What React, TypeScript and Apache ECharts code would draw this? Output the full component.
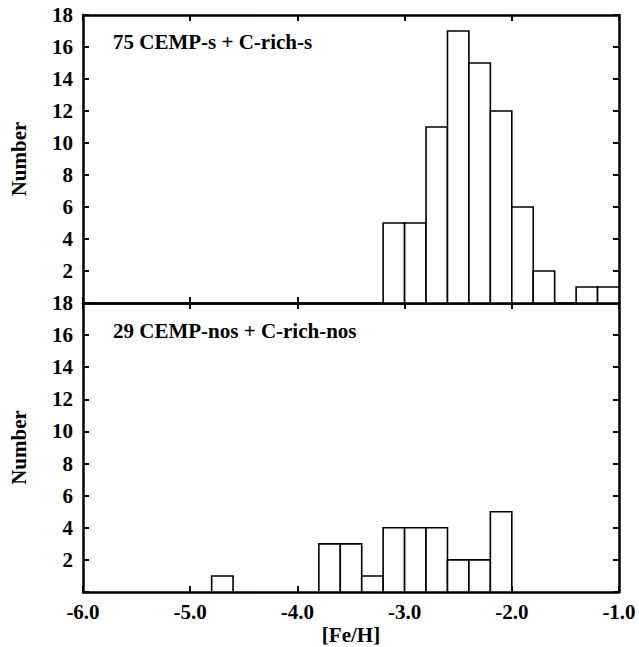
import React, { useEffect, useRef } from "react";
import * as echarts from "echarts";

const BIN_WIDTH = 0.2;
const topBinStarts = [-3.2, -3.0, -2.8, -2.6, -2.4, -2.2, -2.0, -1.8, -1.4, -1.2];
const topCounts = [5, 5, 11, 17, 15, 12, 6, 2, 1, 1];
const bottomBinStarts = [-4.8, -3.8, -3.6, -3.4, -3.2, -3.0, -2.8, -2.6, -2.4, -2.2];
const bottomCounts = [1, 3, 3, 1, 4, 4, 4, 2, 2, 5];
const topLabel = "75 CEMP-s + C-rich-s";
const bottomLabel = "29 CEMP-nos + C-rich-nos";
const xTitle = "[Fe/H]";
const yTitle = "Number";

const FONT = "Liberation Serif";

export default function App() {
  const ref = useRef<HTMLDivElement>(null);
  useEffect(() => {
    document.body.style.margin = "0";
    const chart = echarts.init(ref.current!, null, { renderer: "svg" });
    const tickFont = { fontFamily: FONT, fontWeight: "bold", fontSize: 21, color: "#000" };
    const lineStyle = { color: "#000", width: 2.5 };
    const grids = [
      { left: 80, top: 15, width: 539, height: 288 },
      { left: 80, top: 303, width: 539, height: 289 },
    ];
    const xAxes: any[] = [];
    const yAxes: any[] = [];
    [0, 1].forEach((g) => {
      const isBottom = g === 1;
      xAxes.push({
        type: "value",
        gridIndex: g,
        position: "bottom",
        min: -6,
        max: -1,
        interval: 1,
        axisLine: { show: true, onZero: false, lineStyle },
        axisTick: { show: true, inside: true, length: 6, lineStyle: { color: "#000", width: 2 } },
        axisLabel: {
          show: isBottom,
          ...tickFont,
          margin: 9,
          formatter: (v: number) => v.toFixed(1),
        },
        splitLine: { show: false },
        name: isBottom ? xTitle : "",
        nameLocation: "middle",
        nameGap: 32,
        nameTextStyle: tickFont,
      });
      xAxes.push({
        type: "value",
        gridIndex: g,
        position: "top",
        min: -6,
        max: -1,
        interval: 1,
        axisLine: { show: true, onZero: false, lineStyle },
        axisTick: { show: true, inside: true, length: 6, lineStyle: { color: "#000", width: 2 } },
        axisLabel: { show: false },
        splitLine: { show: false },
      });
      yAxes.push({
        type: "value",
        gridIndex: g,
        position: "left",
        min: 0,
        max: 18,
        interval: 2,
        axisLine: { show: true, onZero: false, lineStyle },
        axisTick: { show: true, inside: true, length: 6, lineStyle: { color: "#000", width: 2 } },
        axisLabel: {
          ...tickFont,
          margin: 10,
          formatter: (v: number) => (v === 0 ? "" : String(v)),
        },
        splitLine: { show: false },
        name: yTitle,
        nameLocation: "middle",
        nameGap: 54,
        nameRotate: 90,
        nameTextStyle: tickFont,
      });
      yAxes.push({
        type: "value",
        gridIndex: g,
        position: "right",
        min: 0,
        max: 18,
        interval: 2,
        axisLine: { show: true, onZero: false, lineStyle },
        axisTick: { show: true, inside: true, length: 6, lineStyle: { color: "#000", width: 2 } },
        axisLabel: { show: false },
        splitLine: { show: false },
      });
    });

    const makeSeries = (starts: number[], counts: number[], g: number) => ({
      type: "custom",
      xAxisIndex: g * 2,
      yAxisIndex: g * 2,
      data: starts.map((s, i) => [s, counts[i]]),
      renderItem: (params: any, api: any) => {
        const x0 = api.value(0);
        const c = api.value(1);
        const p0 = api.coord([x0, c]);
        const p1 = api.coord([x0 + BIN_WIDTH, 0]);
        return {
          type: "rect",
          shape: { x: p0[0], y: p0[1], width: p1[0] - p0[0], height: p1[1] - p0[1] },
          style: { fill: "#fff", stroke: "#000", lineWidth: 1.6 },
        };
      },
      z: 1,
    });

    chart.setOption({
      animation: false,
      backgroundColor: "#fff",
      grid: grids,
      xAxis: xAxes,
      yAxis: yAxes,
      series: [makeSeries(topBinStarts, topCounts, 0), makeSeries(bottomBinStarts, bottomCounts, 1)],
      graphic: [
        {
          type: "text",
          left: 113,
          top: 31,
          style: { text: topLabel, fontFamily: FONT, fontWeight: "bold", fontSize: 21, fill: "#000" },
        },
        {
          type: "text",
          left: 113,
          top: 320,
          style: { text: bottomLabel, fontFamily: FONT, fontWeight: "bold", fontSize: 21, fill: "#000" },
        },
      ],
    });
    return () => chart.dispose();
  }, []);
  return <div ref={ref} style={{ width: 639, height: 647 }} />;
}
